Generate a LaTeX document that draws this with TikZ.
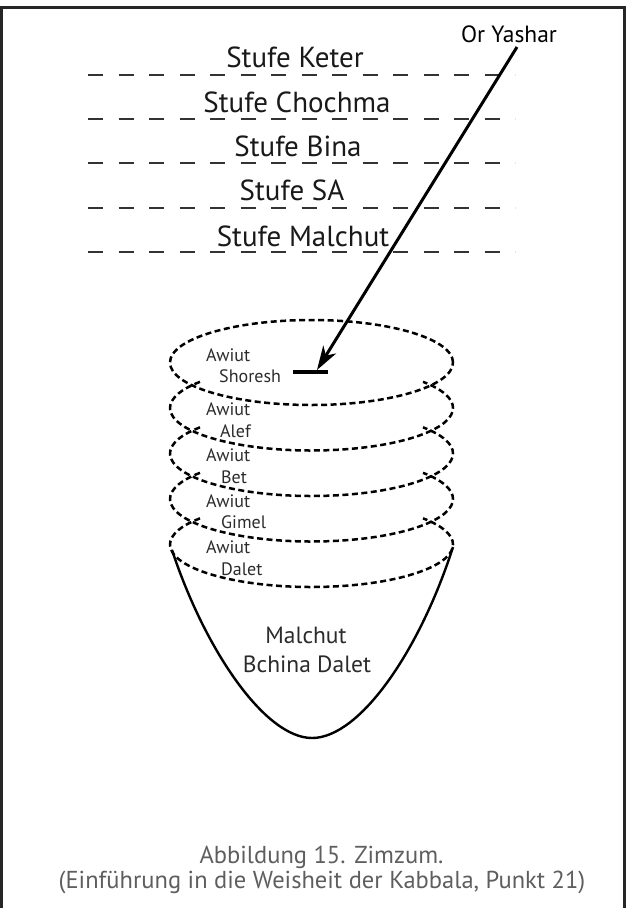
\documentclass[tikz,border=0pt]{standalone}
\usepackage{fontspec}
\setmainfont{PT Sans}
\usetikzlibrary{arrows.meta}
\definecolor{inkgray}{HTML}{2B2B2B}
\definecolor{captiongray}{HTML}{5E5E5E}
\tikzset{
  levelline/.style={line width=2.2pt,black!80,dash pattern=on 15pt off 15.5pt},
  levellabel/.style={anchor=base,inner sep=0pt,text=black!90,font=\fontsize{29}{33}\selectfont},
  disc/.style={line width=2.5pt,dash pattern=on 6pt off 3.5pt},
  awiut/.style={anchor=base west,inner sep=0pt,text=inkgray,font=\fontsize{18}{20}\selectfont},
  bowltext/.style={anchor=base,inner sep=0pt,text=inkgray,font=\fontsize{23.5}{27}\selectfont},
  caption/.style={anchor=base,inner sep=0pt,text=captiongray,font=\fontsize{24.5}{28}\selectfont}
}
\begin{document}
\begin{tikzpicture}[x=1pt,y=-1pt]
    \useasboundingbox (0,0) rectangle (627,908);
    \draw[line width=3pt,black!85] (1.5,912) -- (1.5,7.5) -- (624.5,7.5) -- (624.5,912);

    \draw[levelline] (88,75) -- (515,75);
    \draw[levelline] (88,119) -- (515,119);
    \draw[levelline] (88,163) -- (515,163);
    \draw[levelline] (88,208) -- (515,208);
    \draw[levelline] (88,252) -- (515,252);
    \node[levellabel] (keter) at (295,67) {Stufe Keter};
    \node[levellabel] (chochma) at (297,112) {Stufe Chochma};
    \node[levellabel] (bina) at (298,156) {Stufe Bina};
    \node[levellabel] (sa) at (292,200) {Stufe SA};
    \node[levellabel] (malchutlevel) at (303,246) {Stufe Malchut};

    \draw[disc] (311.5,362.5) ellipse (141.5pt and 42.5pt);
    \draw[disc,shift={(311.5,408)}] (142:141.5pt and 42.5pt)
      arc[start angle=142,end angle=398,x radius=141.5pt,y radius=42.5pt];
    \draw[disc,shift={(311.5,453.5)}] (142:141.5pt and 42.5pt)
      arc[start angle=142,end angle=398,x radius=141.5pt,y radius=42.5pt];
    \draw[disc,shift={(311.5,499)}] (142:141.5pt and 42.5pt)
      arc[start angle=142,end angle=398,x radius=141.5pt,y radius=42.5pt];
    \draw[disc,shift={(311.5,544.5)}] (142:141.5pt and 42.5pt)
      arc[start angle=142,end angle=398,x radius=141.5pt,y radius=42.5pt];

    \node[awiut] (awiutshoresh) at (206,361) {Awiut};
    \node[awiut] (shoresh) at (219,382) {Shoresh};
    \node[awiut] (awiutalef) at (206,415) {Awiut};
    \node[awiut] (alef) at (220,437) {Alef};
    \node[awiut] (awiutbet) at (206,461) {Awiut};
    \node[awiut] (bet) at (221,483) {Bet};
    \node[awiut] (awiutgimel) at (206,507) {Awiut};
    \node[awiut] (gimel) at (221,528) {Gimel};
    \node[awiut] (awiutdalet) at (206,553) {Awiut};
    \node[awiut] (dalet) at (221,575) {Dalet};

    \draw[line width=2.4pt] (172,550) .. controls (205,650) and (265,738) .. (312,738)
      .. controls (360,738) and (420,650) .. (453,547);
    \node[bowltext] (malchut) at (306,643) {Malchut};
    \node[bowltext] (bchina) at (307,672) {Bchina Dalet};

    \node[anchor=base,inner sep=0pt,font=\fontsize{23.5}{27}\selectfont] (oryashar) at (509,42) {Or Yashar};
    \coordinate (ray) at (517,47);
    \coordinate (hit) at (317,370);
    \draw[line width=4pt] (293,372) -- (328,372);
    \draw[line width=3pt,-{Stealth[length=24pt,width=15pt,inset=7pt]}] (ray) -- (hit);

    \node[caption] (figtitle) at (321.5,863) {Abbildung 15. Zimzum.};
    \node[caption] (figsource) at (322,888) {(Einführung in die Weisheit der Kabbala, Punkt 21)};
  \end{tikzpicture}
\end{document}
